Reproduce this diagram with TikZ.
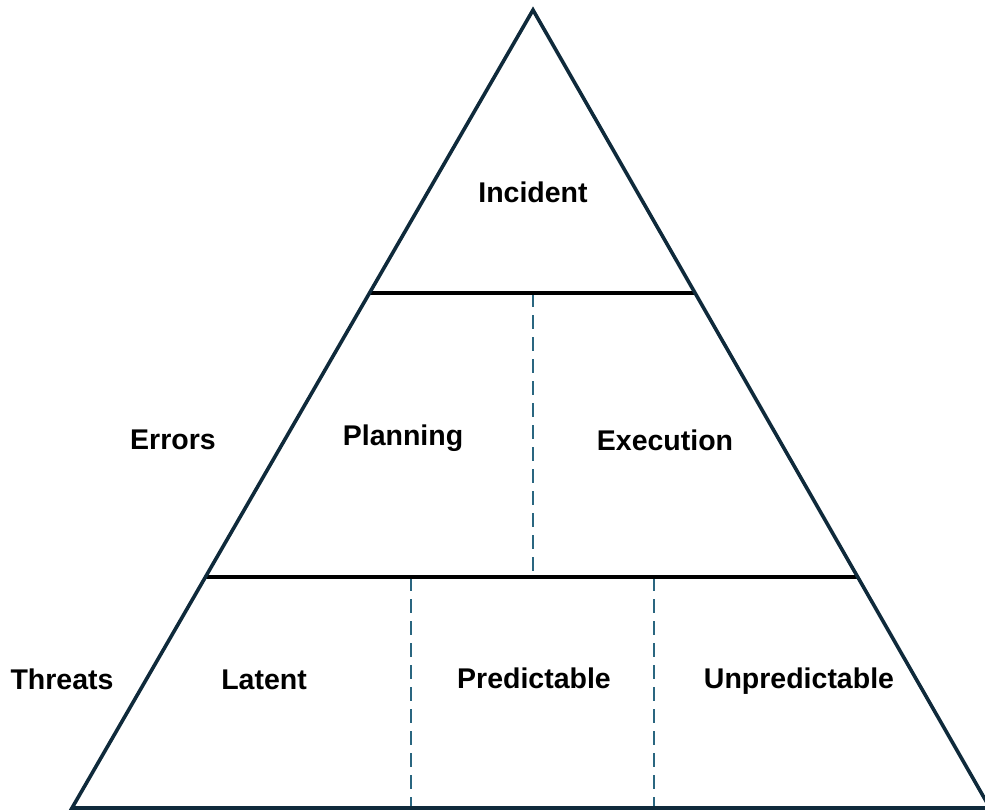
\documentclass[tikz,border=0pt]{standalone}
\usepackage{fontspec}
\setmainfont{Liberation Sans}
\usetikzlibrary{calc}
\definecolor{edgenavy}{HTML}{0F2A3B}
\definecolor{splitblue}{HTML}{2A6680}
\tikzset{
  side/.style={draw=edgenavy, line width=3.6pt, line join=miter},
  tier/.style={draw=black, line width=3.6pt},
  split/.style={draw=splitblue, line width=1.4pt, dash pattern=on 14pt off 8pt},
  lbl/.style={font=\bfseries\fontsize{28.5}{34}\selectfont, text=black, inner sep=0pt, anchor=base}
}
\begin{document}
\begin{tikzpicture}[x=1pt,y=-1pt]
\useasboundingbox (0,0) rectangle (985,810);
\clip (0,0) rectangle (985,810);
% corners of the pyramid
\coordinate (apex) at (533,10);
\coordinate (bl) at (72,808);
\coordinate (br) at (990,808);
% tier boundaries on both sides
\coordinate (t1l) at ($(apex)!0.3546!(bl)$);
\coordinate (t1r) at ($(apex)!0.3546!(br)$);
\coordinate (t2l) at ($(apex)!0.7105!(bl)$);
\coordinate (t2r) at ($(apex)!0.7105!(br)$);
% dashed splits
\coordinate (s1a) at (533,293);
\coordinate (s1b) at (533,577);
\coordinate (s2a) at (411,577);
\coordinate (s2b) at (411,808);
\coordinate (s3a) at (654,577);
\coordinate (s3b) at (654,808);

\draw[split] (s1a) -- (s1b);
\draw[split] (s2a) -- (s2b);
\draw[split] (s3a) -- (s3b);
\draw[tier] (t1l) -- (t1r);
\draw[tier] (t2l) -- (t2r);
\draw[side] (bl) -- (apex) -- (br) -- cycle;

\node[lbl] (incident) at (533,203) {Incident};
\node[lbl] (errors) at (173,449) {Errors};
\node[lbl] (planning) at (403,445) {Planning};
\node[lbl] (execution) at (665,450) {Execution};
\node[lbl] (threats) at (62,689) {Threats};
\node[lbl] (latent) at (264,689) {Latent};
\node[lbl] (predictable) at (534,688) {Predictable};
\node[lbl] (unpredictable) at (799,688) {Unpredictable};
\end{tikzpicture}
\end{document}
